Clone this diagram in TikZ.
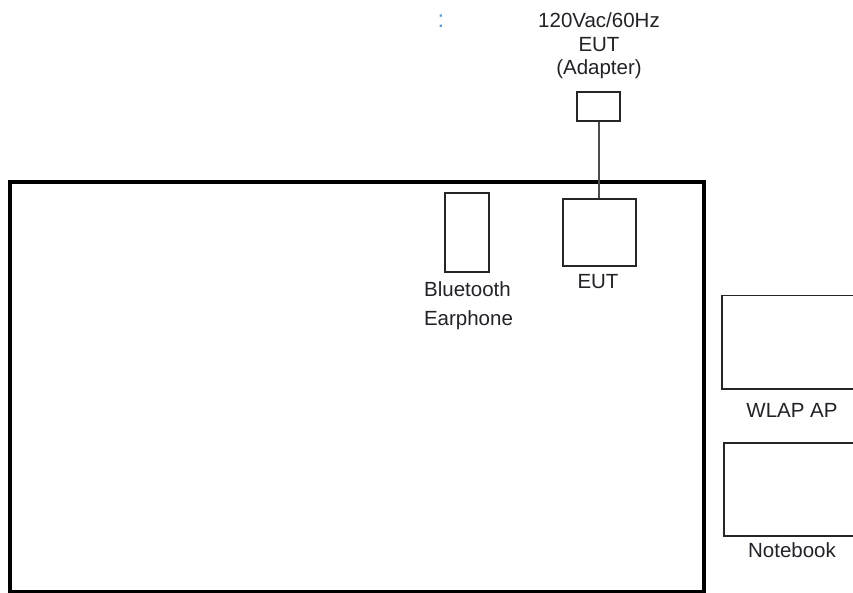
\documentclass[tikz,border=0pt]{standalone}
\usepackage{fontspec}
\setmainfont{Liberation Sans}
\definecolor{txt}{RGB}{34,34,40}
\definecolor{colonblue}{RGB}{90,160,225}
\begin{document}
\begin{tikzpicture}[x=1pt,y=-1pt,
  lbl/.style={anchor=base,inner sep=0pt,text=txt,font=\fontsize{20.5}{24}\selectfont},
  box/.style={draw=black!85,line width=1.5pt,inner sep=0pt,fill=white},
  frame/.style={draw=black,line width=4pt}]
\clip (0,0) rectangle (853,593);
\fill[white] (0,0) rectangle (853,593);
% big table frame
\draw[frame] (10,182) rectangle (704,592);
% adapter
\node[box,minimum width=43pt,minimum height=29pt] (adapter) at (598.5,106.5) {};
\node[box,minimum width=73pt,minimum height=67pt] (eut) at (599.5,232.5) {};
\draw[black!70,line width=2pt] (adapter.south) -- (adapter.south |- eut.north);
\node[box,minimum width=44pt,minimum height=79pt] (bt) at (467,232.5) {};
\node[box,minimum width=150pt,minimum height=93pt,anchor=north west] (ap) at (721,295) {};
\node[box,minimum width=150pt,minimum height=93pt,anchor=north west] (nb) at (723,442) {};
% labels
\node[lbl] (t1) at (599,28) {120Vac/60Hz};
\node[lbl] (t2) at (599,52) {EUT};
\node[lbl] (t3) at (599,75) {(Adapter)};
\node[lbl] (b1) at (467.5,297) {Bluetooth};
\node[lbl] (b2) at (468.5,325) {Earphone};
\node[lbl] (e1) at (598,288) {EUT};
\node[lbl] (w1) at (792,417) {WLAP AP};
\node[lbl] (n1) at (792,557) {Notebook};
\node[lbl,text=colonblue,font=\fontsize{24}{26}\selectfont] (c1) at (441,28) {:};
\end{tikzpicture}
\end{document}
